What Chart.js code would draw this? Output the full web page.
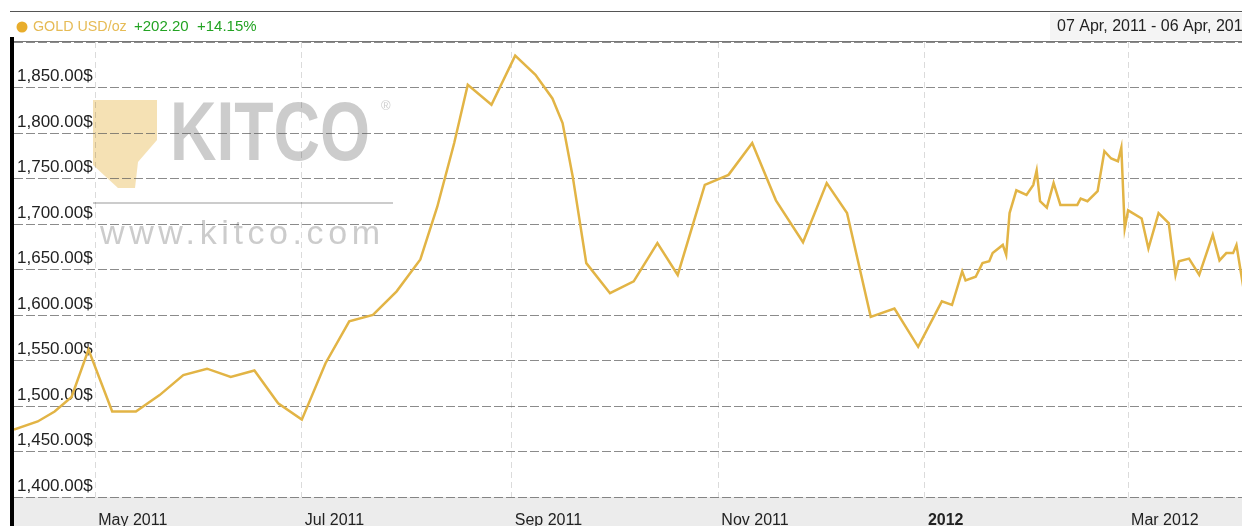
<!DOCTYPE html>
<html>
<head>
<meta charset="utf-8">
<title>Gold USD/oz - Kitco</title>
<script src="https://cdn.jsdelivr.net/npm/chart.js@4/dist/chart.umd.min.js"></script>
<style>
	html, body { margin: 0; padding: 0; background: #fff; overflow: hidden; }
	#wrap { position: relative; width: 1250px; height: 526px; }
</style>
</head>
<body>
<div id="wrap"><canvas id="chart"></canvas></div>
<script>
'use strict';

// Range shown in the header
var startDate = '2011-04-07',
	endDate   = '2012-04-06';

// Closing prices, USD/oz
var dates = [
	'2011-04-07', '2011-04-14', '2011-04-19', '2011-04-24', '2011-04-29',
	'2011-05-06', '2011-05-13', '2011-05-20', '2011-05-27', '2011-06-03',
	'2011-06-10', '2011-06-17', '2011-06-24', '2011-07-01', '2011-07-08',
	'2011-07-15', '2011-07-22', '2011-07-29', '2011-08-05', '2011-08-10',
	'2011-08-15', '2011-08-19', '2011-08-26', '2011-09-02', '2011-09-08',
	'2011-09-13', '2011-09-16', '2011-09-19', '2011-09-23', '2011-09-30',
	'2011-10-07', '2011-10-14', '2011-10-20', '2011-10-28', '2011-11-04',
	'2011-11-11', '2011-11-18', '2011-11-26', '2011-12-03', '2011-12-09',
	'2011-12-16', '2011-12-23', '2011-12-30', '2012-01-06', '2012-01-09',
	'2012-01-12', '2012-01-13', '2012-01-16', '2012-01-18', '2012-01-20',
	'2012-01-21', '2012-01-24', '2012-01-25', '2012-01-26', '2012-01-28',
	'2012-01-31', '2012-02-02', '2012-02-03', '2012-02-04', '2012-02-06',
	'2012-02-08', '2012-02-10', '2012-02-15', '2012-02-16', '2012-02-18',
	'2012-02-21', '2012-02-23', '2012-02-25', '2012-02-27', '2012-02-28',
	'2012-02-29', '2012-03-01', '2012-03-05', '2012-03-07', '2012-03-10',
	'2012-03-13', '2012-03-15', '2012-03-16', '2012-03-19', '2012-03-22',
	'2012-03-24', '2012-03-26', '2012-03-28', '2012-03-30', '2012-04-01',
	'2012-04-02', '2012-04-04'
];
var prices = [
	1474, 1483, 1494, 1510, 1562,
	1494, 1494, 1512, 1534, 1541,
	1532, 1539, 1503, 1485, 1547,
	1593, 1600, 1626, 1661, 1719,
	1789, 1853, 1831, 1885, 1864,
	1838, 1811, 1752, 1657, 1624,
	1637, 1679, 1644, 1743, 1754,
	1789, 1726, 1680, 1745, 1712,
	1598, 1607, 1565, 1615, 1611,
	1648, 1638, 1642, 1657, 1659,
	1668, 1677, 1666, 1712, 1737,
	1732, 1743, 1759, 1725, 1718,
	1745, 1721, 1721, 1728, 1725,
	1736, 1780, 1772, 1769, 1784,
	1695, 1715, 1706, 1673, 1712,
	1701, 1644, 1659, 1662, 1644,
	1666, 1688, 1660, 1668, 1668,
	1677, 1631
];

// X axis ticks
var tickDates  = ['2011-05-01', '2011-07-01', '2011-09-01', '2011-11-01', '2012-01-01', '2012-03-01'];
var tickLabels = ['May 2011', 'Jul 2011', 'Sep 2011', 'Nov 2011', '2012', 'Mar 2012'];

// Y axis
var priceMin = 1400,
	priceMax = 1900,
	priceStep = 50;

// Header
var symbol    = 'GOLD USD/oz',
	change    = '+202.20',
	changePct = '+14.15%',
	rangeText = '07 Apr, 2011 - 06 Apr, 2012';

var FONT = '"Liberation Sans", Arial, sans-serif',
	GOLD = '#e2b445';

function dayOf(d) {
	return (Date.parse(d) - Date.parse(startDate)) / 86400000;
}

function money(v) {
	return v.toLocaleString('en-US', {minimumFractionDigits: 2, maximumFractionDigits: 2}) + '$';
}

var points = dates.map(function(d, i) {
	return {x: dayOf(d), y: prices[i]};
});

var frame = {
	id: 'frame',
	beforeDraw: function(chart) {
		var ctx = chart.ctx,
			area = chart.chartArea;

		ctx.save();
		ctx.fillStyle = '#fff';
		ctx.fillRect(0, 0, chart.width, chart.height);

		// bottom band behind month labels
		ctx.fillStyle = '#ececec';
		ctx.fillRect(area.left, area.bottom, chart.width - area.left, chart.height - area.bottom);

		// watermark
		ctx.globalAlpha = 0.5;
		ctx.fillStyle = '#ecc46a';
		ctx.beginPath();
		ctx.moveTo(93, 100);
		ctx.lineTo(157, 100);
		ctx.lineTo(157, 140);
		ctx.lineTo(138, 162);
		ctx.lineTo(135, 188);
		ctx.lineTo(118, 188);
		ctx.lineTo(93, 165);
		ctx.closePath();
		ctx.fill();

		ctx.globalAlpha = 0.5;
		ctx.fillStyle = '#9a9a9a';
		ctx.font = 'bold 84px ' + FONT;
		ctx.textBaseline = 'alphabetic';
		var w = ctx.measureText('KITCO').width;
		ctx.save();
		ctx.translate(170, 160);
		ctx.scale(200 / w, 1);
		ctx.fillText('KITCO', 0, 0);
		ctx.restore();

		ctx.font = '13px ' + FONT;
		ctx.fillText('\u00ae', 381, 110);

		ctx.fillRect(93, 202, 300, 2);

		ctx.font = '34px ' + FONT;
		ctx.letterSpacing = '4.6px';
		ctx.fillText('www.kitco.com', 100, 244);
		ctx.letterSpacing = '0px';
		ctx.restore();
	},
	afterDraw: function(chart) {
		var ctx = chart.ctx;

		ctx.save();
		// header strip
		ctx.fillStyle = '#fff';
		ctx.fillRect(10, 12, chart.width, 29);
		ctx.fillStyle = '#f4f4f4';
		ctx.fillRect(1050, 13, chart.width, 27);

		ctx.fillStyle = '#555';
		ctx.fillRect(10, 11, chart.width, 1);
		ctx.fillStyle = '#777';
		ctx.fillRect(10, 41, chart.width, 1);

		// left black border
		ctx.fillStyle = '#000';
		ctx.fillRect(10, 37, 4, chart.height);

		ctx.fillStyle = '#e8ad2c';
		ctx.beginPath();
		ctx.arc(22, 27, 5.5, 0, Math.PI * 2);
		ctx.fill();

		ctx.textBaseline = 'middle';
		ctx.textAlign = 'left';
		ctx.font = '14.3px ' + FONT;
		ctx.fillStyle = '#e6bb55';
		ctx.fillText(symbol, 33, 27);
		ctx.font = '15px ' + FONT;
		ctx.fillStyle = '#23a323';
		ctx.fillText(change, 134, 27);
		ctx.fillText(changePct, 197, 27);
		ctx.fillStyle = '#222';
		ctx.font = '16px ' + FONT;
		ctx.fillText(rangeText, 1057, 27);
		ctx.restore();
	}
};

new Chart(document.getElementById('chart'), {
	type: 'line',
	data: {
		datasets: [{
			label: symbol,
			data: points,
			borderColor: GOLD,
			borderWidth: 2.5,
			pointRadius: 0,
			tension: 0,
			fill: false
		}]
	},
	options: {
		responsive: true,
		maintainAspectRatio: false,
		animation: false,
		layout: {padding: {left: 14, top: 42, right: 0, bottom: 0}},
		plugins: {
			legend: {display: false},
			tooltip: {enabled: false}
		},
		scales: {
			x: {
				type: 'linear',
				min: 0,
				max: dayOf(endDate),
				afterBuildTicks: function(scale) {
					scale.ticks = tickDates.map(function(d) {
						return {value: dayOf(d)};
					});
				},
				afterFit: function(scale) {
					scale.height = 29;
				},
				grid: {
					color: 'rgba(0,0,0,0.14)',
					lineWidth: 1,
					drawTicks: false
				},
				border: {display: false, dash: [6, 4]},
				ticks: {
					autoSkip: false,
					maxRotation: 0,
					align: 'start',
					labelOffset: 3,
					padding: 14,
					color: '#222',
					font: function(c) {
						var bold = c.tick && c.tick.label === '2012';
						return {family: FONT, size: 16, weight: bold ? 'bold' : 'normal'};
					},
					callback: function(value) {
						var i = tickDates.map(dayOf).indexOf(value);
						return i < 0 ? '' : tickLabels[i];
					}
				}
			},
			y: {
				min: priceMin,
				max: priceMax,
				afterFit: function(scale) {
					scale.width = 0;
				},
				grid: {
					color: 'rgba(90,90,90,0.7)',
					lineWidth: 1,
					drawTicks: false
				},
				border: {display: false, dash: [9, 3]},
				ticks: {
					stepSize: priceStep,
					mirror: true,
					padding: 3,
					labelOffset: -11,
					color: '#222',
					font: {family: FONT, size: 17},
					callback: function(value) {
						return value >= priceMax ? '' : money(value);
					}
				}
			}
		}
	},
	plugins: [frame]
});
</script>
</body>
</html>
